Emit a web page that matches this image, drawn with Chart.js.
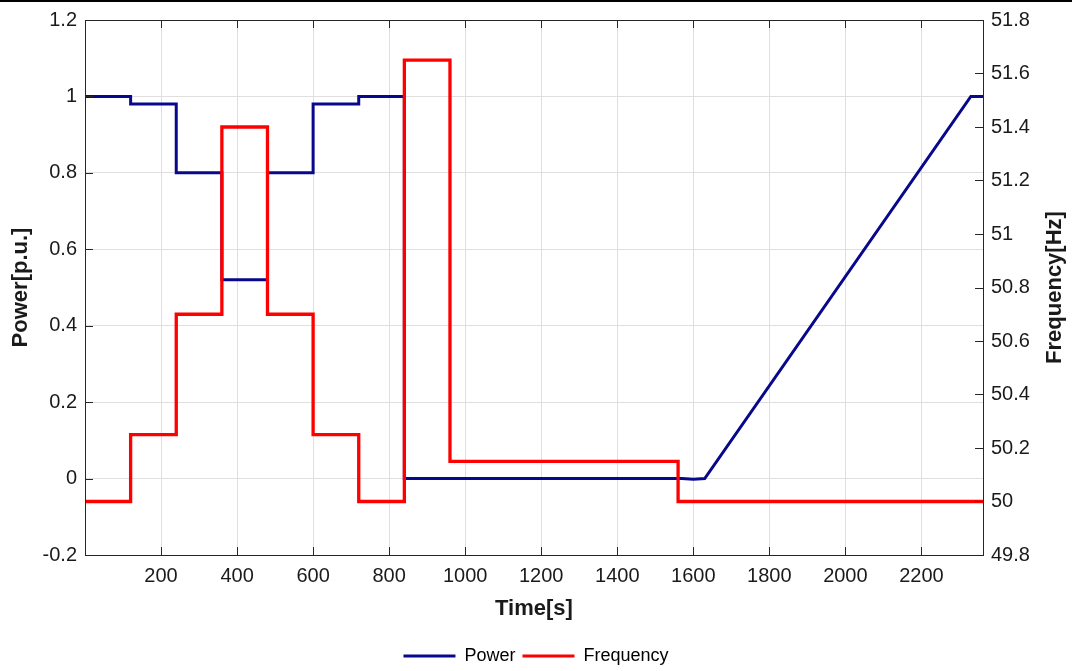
<!DOCTYPE html>
<html>
<head>
<meta charset="utf-8">
<script src="https://cdn.jsdelivr.net/npm/chart.js@4.4.1/dist/chart.umd.min.js"></script>
<style>
  html, body { margin: 0; padding: 0; background: #fff; }
</style>
</head>
<body>
<canvas id="powerFreqChart" width="1072" height="671"></canvas>
<script>
// step breakpoints
const powerTime  = [0, 120, 120, 240, 240, 360, 360, 480, 480, 600, 600, 720, 720, 840, 840, 1570, 1600, 1630, 2330, 2362];
const powerValue = [1, 1, 0.98, 0.98, 0.8, 0.8, 0.52, 0.52, 0.8, 0.8, 0.98, 0.98, 1, 1, 0, 0, -0.002, 0, 1, 1];

const freqTime  = [0, 120, 120, 240, 240, 360, 360, 480, 480, 600, 600, 720, 720, 840, 840, 960, 960, 1560, 1560, 2362];
const freqValue = [50, 50, 50.25, 50.25, 50.7, 50.7, 51.4, 51.4, 50.7, 50.7, 50.25, 50.25, 50, 50, 51.65, 51.65, 50.15, 50.15, 50, 50];

const timeTicks  = [200, 400, 600, 800, 1000, 1200, 1400, 1600, 1800, 2000, 2200];
const powerTicks = [-0.2, 0, 0.2, 0.4, 0.6, 0.8, 1, 1.2];
const freqTicks  = [49.8, 50, 50.2, 50.4, 50.6, 50.8, 51, 51.2, 51.4, 51.6, 51.8];

const axisColor = '#262626';
const gridColor = '#dfdfdf';
const fontFamily = '"Liberation Sans", Arial, sans-serif';

Chart.defaults.font.family = fontFamily;
Chart.defaults.color = '#1a1a1a';

function toPoints(xs, ys) {
    return xs.map((x, i) => ({x: x, y: ys[i]}));
}

function fixTicks(list) {
    return function (scale) {
        scale.ticks = list.map(v => ({value: v}));
    };
}

function fmt(v) {
    return String(Math.round(v * 100) / 100);
}

// box around the plot with inward tick marks, like the original
const frameBox = {
    id: 'frameBox',
    afterLayout(chart) {
        // push the legend a little lower
        chart.legend.top += 4;
        chart.legend.bottom += 4;
    },
    beforeDraw(chart) {
        const ctx = chart.ctx;
        ctx.save();
        ctx.fillStyle = '#000';
        ctx.fillRect(0, 0, chart.width, 2);
        ctx.restore();
    },
    afterDatasetsDraw(chart) {
        const {ctx, chartArea: a, scales} = chart;
        const len = 8;
        ctx.save();
        ctx.strokeStyle = axisColor;
        ctx.lineWidth = 1;
        ctx.beginPath();
        timeTicks.forEach(v => {
            const px = Math.round(scales.x.getPixelForValue(v)) + 0.5;
            ctx.moveTo(px, a.bottom); ctx.lineTo(px, a.bottom - len);
            ctx.moveTo(px, a.top); ctx.lineTo(px, a.top + len);
        });
        powerTicks.forEach(v => {
            const py = Math.round(scales.y.getPixelForValue(v)) + 0.5;
            ctx.moveTo(a.left, py); ctx.lineTo(a.left + len, py);
        });
        freqTicks.forEach(v => {
            const py = Math.round(scales.y1.getPixelForValue(v)) + 0.5;
            ctx.moveTo(a.right, py); ctx.lineTo(a.right - len, py);
        });
        ctx.stroke();
        ctx.strokeRect(Math.round(a.left) + 0.5, Math.round(a.top) + 0.5,
                       Math.round(a.right - a.left), Math.round(a.bottom - a.top));
        ctx.restore();
    },
    afterDraw(chart) {
        // right axis title reads bottom-to-top in the original
        const {ctx, chartArea: a} = chart;
        const t = chart.options.scales.y1.title;
        ctx.save();
        ctx.translate(1055, (a.top + a.bottom) / 2);
        ctx.rotate(-Math.PI / 2);
        ctx.font = 'bold 22px ' + fontFamily;
        ctx.fillStyle = '#1a1a1a';
        ctx.textAlign = 'center';
        ctx.textBaseline = 'middle';
        ctx.fillText(t.text, 0, 0);
        ctx.restore();
    }
};

const chartData = {
    datasets: [
        {
            label: 'Power',
            data: toPoints(powerTime, powerValue),
            borderColor: '#08088c',
            backgroundColor: '#08088c',
            borderWidth: 3,
            yAxisID: 'y',
            order: 1
        },
        {
            label: 'Frequency',
            data: toPoints(freqTime, freqValue),
            borderColor: '#ff0000',
            backgroundColor: '#ff0000',
            borderWidth: 3.3,
            yAxisID: 'y1',
            order: 0
        }
    ]
};

const config = {
    type: 'line',
    data: chartData,
    options: {
        responsive: false,
        animation: false,
        layout: {
            padding: {top: 18, bottom: 0, left: 0, right: 0}
        },
        elements: {
            point: {radius: 0},
            line: {tension: 0}
        },
        plugins: {
            tooltip: {enabled: false},
            legend: {
                position: 'bottom',
                labels: {
                    boxWidth: 52,
                    boxHeight: 3,
                    padding: 7,
                    font: {size: 18},
                    generateLabels: chart => chart.data.datasets.map((ds, i) => ({
                        text: ds.label,
                        fillStyle: ds.borderColor,
                        strokeStyle: ds.borderColor,
                        lineWidth: 0,
                        hidden: false,
                        datasetIndex: i
                    }))
                }
            }
        },
        scales: {
            x: {
                type: 'linear',
                min: 0,
                max: 2362,
                afterBuildTicks: fixTicks(timeTicks),
                afterFit: scale => { scale.height = 81; },
                ticks: {
                    font: {size: 20},
                    padding: 9,
                    maxRotation: 0,
                    callback: v => fmt(v)
                },
                grid: {color: gridColor, drawTicks: false},
                border: {display: false},
                title: {
                    display: true,
                    text: 'Time[s]',
                    font: {size: 22, weight: 'bold'},
                    padding: {top: 4, bottom: 14}
                }
            },
            y: {
                position: 'left',
                min: -0.2,
                max: 1.2,
                afterBuildTicks: fixTicks(powerTicks),
                afterFit: scale => { scale.width = 85; },
                ticks: {
                    font: {size: 20},
                    padding: 8,
                    callback: v => fmt(v)
                },
                grid: {color: gridColor, drawTicks: false},
                border: {display: false},
                title: {
                    display: true,
                    text: 'Power[p.u.]',
                    font: {size: 22, weight: 'bold'},
                    padding: {top: 8, bottom: 4}
                }
            },
            y1: {
                position: 'right',
                min: 49.8,
                max: 51.8,
                afterBuildTicks: fixTicks(freqTicks),
                afterFit: scale => { scale.width = 89; },
                ticks: {
                    font: {size: 20},
                    padding: 8,
                    callback: v => fmt(v)
                },
                grid: {drawOnChartArea: false, drawTicks: false},
                border: {display: false},
                title: {
                    display: false,
                    text: 'Frequency[Hz]'
                }
            }
        }
    },
    plugins: [frameBox]
};

const ctx = document.getElementById('powerFreqChart').getContext('2d');
const myChart = new Chart(ctx, config);
</script>
</body>
</html>
